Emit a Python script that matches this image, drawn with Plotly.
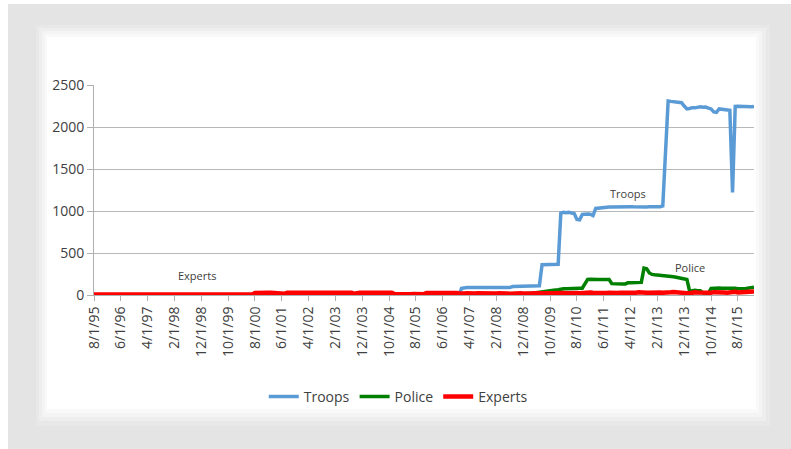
import plotly.graph_objects as go

# ---------------- data (monthly, Aug 1995 .. Feb 2016) ----------------
troops = (
    [0, 0, 0, 0, 0] +
    [0, 0, 0, 0, 0, 0, 0, 0, 0, 0, 0, 0] +  # 1996
    [0, 0, 0, 0, 0, 0, 0, 0, 0, 0, 0, 0] +  # 1997
    [0, 0, 0, 0, 0, 0, 0, 0, 0, 0, 0, 0] +  # 1998
    [0, 0, 0, 0, 0, 0, 0, 0, 0, 0, 0, 0] +  # 1999
    [0, 0, 0, 0, 0, 0, 0, 0, 0, 0, 0, 0] +  # 2000
    [0, 0, 0, 0, 0, 0, 0, 0, 0, 0, 0, 0] +  # 2001
    [0, 0, 0, 0, 0, 0, 0, 0, 0, 0, 0, 0] +  # 2002
    [0, 0, 0, 0, 0, 0, 0, 0, 0, 0, 0, 0] +  # 2003
    [0, 0, 0, 0, 0, 0, 0, 0, 0, 0, 0, 0] +  # 2004
    [0, 0, 0, 0, 0, 0, 0, 0, 0, 0, 0, 0] +  # 2005
    [0, 0, 0, 0, 0, 0, 0, 0, 0, 0, 0, 0] +  # 2006
    [80, 88, 88, 88, 90, 88, 88, 90, 88, 88, 88, 90] +  # 2007
    [88, 88, 90, 88, 88, 88, 88, 100, 100, 100, 102, 100] +  # 2008
    [100, 102, 105, 104, 105, 110, 360, 362, 362, 362, 362, 362] +  # 2009
    [365, 975, 985, 980, 985, 975, 970, 900, 895, 960, 965, 965] +  # 2010
    [962, 945, 1030, 1035, 1040, 1045, 1045, 1048, 1048, 1050, 1048, 1050] +  # 2011
    [1050, 1048, 1050, 1052, 1050, 1048, 1050, 1045, 1050, 1048, 1052, 1050] +  # 2012
    [1048, 1050, 1052, 1060, 1700, 2310, 2305, 2300, 2302, 2298, 2290, 2250] +  # 2013
    [2215, 2220, 2230, 2228, 2235, 2240, 2235, 2238, 2225, 2215, 2180, 2175] +  # 2014
    [2215, 2212, 2205, 2208, 2200, 1220, 2245, 2248, 2245, 2250, 2243, 2242] +  # 2015
    [2240, 2245]  # 2016
)

police = (
    [0, 0, 0, 0, 0] +
    [0, 0, 0, 0, 0, 0, 0, 0, 0, 0, 0, 0] +  # 1996
    [0, 0, 0, 0, 0, 0, 0, 0, 0, 0, 0, 0] +  # 1997
    [0, 0, 0, 0, 0, 0, 0, 0, 0, 0, 0, 0] +  # 1998
    [0, 0, 0, 0, 0, 0, 0, 0, 0, 0, 0, 0] +  # 1999
    [0, 0, 0, 0, 0, 0, 0, 5, 6, 6, 6, 6] +  # 2000
    [6, 6, 6, 6, 6, 6, 6, 6, 6, 6, 6, 6] +  # 2001
    [6, 6, 6, 6, 6, 6, 6, 6, 6, 6, 6, 6] +  # 2002
    [6, 6, 6, 6, 6, 6, 6, 6, 6, 6, 6, 6] +  # 2003
    [6, 6, 6, 6, 6, 6, 6, 6, 6, 6, 6, 6] +  # 2004
    [6, 6, 6, 6, 6, 6, 6, 6, 6, 6, 6, 6] +  # 2005
    [6, 6, 6, 6, 6, 6, 6, 6, 6, 6, 6, 6] +  # 2006
    [8, 8, 8, 8, 8, 8, 8, 8, 8, 8, 8, 8] +  # 2007
    [8, 8, 8, 8, 8, 8, 8, 10, 10, 10, 12, 12] +  # 2008
    [15, 20, 22, 25, 30, 35, 45, 50, 52, 55, 55, 60] +  # 2009
    [62, 70, 75, 75, 78, 78, 80, 80, 80, 80, 130, 185] +  # 2010
    [188, 190, 188, 185, 185, 188, 186, 185, 135, 132, 130, 130] +  # 2011
    [130, 132, 145, 145, 148, 148, 145, 150, 320, 312, 262, 245] +  # 2012
    [240, 238, 236, 232, 230, 226, 222, 218, 212, 205, 200, 192] +  # 2013
    [185, 45, 55, 55, 50, 50, 25, 18, 20, 78, 82, 82] +  # 2014
    [82, 80, 82, 80, 78, 80, 80, 75, 72, 75, 78, 80] +  # 2015
    [85, 92]  # 2016
)

experts = (
    [5, 5, 5, 5, 5] +
    [5, 5, 5, 5, 5, 5, 5, 5, 5, 5, 5, 5] +  # 1996
    [5, 5, 5, 5, 5, 5, 5, 5, 5, 5, 5, 5] +  # 1997
    [5, 5, 5, 5, 5, 5, 5, 5, 5, 5, 5, 5] +  # 1998
    [5, 5, 5, 5, 5, 5, 5, 5, 5, 15, 18, 16] +  # 1999
    [12, 6, 5, 5, 5, 5, 5, 25, 28, 28, 26, 28] +  # 2000
    [27, 28, 26, 28, 27, 25, 15, 27, 28, 26, 28, 27] +  # 2001
    [26, 28, 27, 28, 26, 27, 28, 26, 27, 28, 26, 27] +  # 2002
    [28, 26, 27, 25, 28, 26, 27, 28, 15, 26, 28, 27] +  # 2003
    [27, 28, 26, 18, 27, 28, 26, 27, 25, 27, 26, 12] +  # 2004
    [10, 10, 12, 10, 11, 10, 12, 10, 11, 12, 10, 25] +  # 2005
    [26, 28, 27, 30, 28, 26, 27, 28, 30, 26, 25, 20] +  # 2006
    [15, 18, 20, 16, 15, 18, 22, 20, 18, 16, 20, 22] +  # 2007
    [20, 18, 22, 25, 20, 18, 16, 20, 22, 25, 20, 18] +  # 2008
    [22, 20, 18, 20, 25, 22, 20, 24, 26, 22, 20, 24] +  # 2009
    [25, 28, 24, 22, 26, 30, 28, 25, 22, 26, 28, 25] +  # 2010
    [30, 28, 25, 22, 26, 28, 24, 26, 30, 28, 25, 28] +  # 2011
    [26, 24, 28, 30, 26, 28, 32, 35, 30, 28, 26, 30] +  # 2012
    [28, 32, 30, 28, 26, 30, 32, 35, 30, 28, 26, 25] +  # 2013
    [22, 20, 28, 32, 30, 28, 35, 32, 30, 28, 34, 30] +  # 2014
    [32, 35, 30, 28, 32, 35, 38, 30, 32, 35, 36, 38] +  # 2015
    [40, 42]  # 2016
)

# month categories (Aug 1995 .. Feb 2016)
months = []
y, m = 1995, 8
for _ in range(len(troops)):
    months.append(f"{m}/1/{y % 100:02d}")
    m += 1
    if m > 12:
        m = 1
        y += 1

tick_labels = ["8/1/95", "6/1/96", "4/1/97", "2/1/98", "12/1/98", "10/1/99",
               "8/1/00", "6/1/01", "4/1/02", "2/1/03", "12/1/03", "10/1/04",
               "8/1/05", "6/1/06", "4/1/07", "2/1/08", "12/1/08", "10/1/09",
               "8/1/10", "6/1/11", "4/1/12", "2/1/13", "12/1/13", "10/1/14",
               "8/1/15"]
y_ticks = [0, 500, 1000, 1500, 2000, 2500]

series_names = ["Troops", "Police", "Experts"]
series_colors = ["#5b9bd5", "#008000", "#ff0000"]
series_widths = [3.5, 3.5, 4.5]

FONT = "'Open Sans', Lato, sans-serif"
TXT = "#404040"

fig = go.Figure()
for name, vals, col, w in zip(series_names, [troops, police, experts], series_colors, series_widths):
    fig.add_trace(go.Scatter(x=months, y=vals, mode="lines", name=name,
                             line=dict(color=col, width=w)))

# ---------------- layout ----------------
W, H = 791, 449
L, R, T, B = 94, 37, 85, 154
pw, ph = W - L - R, H - T - B


def px2paper(x0, y0, x1, y1):
    return dict(x0=(x0 - L) / pw, x1=(x1 - L) / pw,
                y0=(H - B - y0) / ph, y1=(H - B - y1) / ph)


shapes = []
shapes.append(dict(type="rect", xref="paper", yref="paper", layer="below",
                   line=dict(width=0), fillcolor="#e4e4e4", **px2paper(8, 4, 791, 449)))
for (x0, y0, x1, y1, c) in [(36, 25, 770, 426, "#e8e8e8"),
                            (39, 28, 766, 421, "#eeeeee"),
                            (42, 31, 762, 417, "#f4f4f4"),
                            (45, 34, 759, 413, "#f9f9f9"),
                            (47, 37, 756, 409, "#ffffff")]:
    shapes.append(dict(type="rect", xref="paper", yref="paper", layer="below",
                       line=dict(width=0), fillcolor=c, **px2paper(x0, y0, x1, y1)))

annotations = [
    dict(x=38.4, y=232, text="Experts", showarrow=False, font=dict(size=11, color="#404040", family=FONT)),
    dict(x=199, y=1205, text="Troops", showarrow=False, font=dict(size=11, color="#404040", family=FONT)),
    dict(x=222, y=327, text="Police", showarrow=False, font=dict(size=11, color="#404040", family=FONT)),
]

fig.update_layout(
    width=W, height=H,
    margin=dict(l=L, r=R, t=T, b=B, pad=0),
    paper_bgcolor="#ffffff",
    plot_bgcolor="rgba(0,0,0,0)",
    font=dict(family=FONT, size=14, color=TXT),
    shapes=shapes,
    annotations=annotations,
    showlegend=True,
    legend=dict(orientation="h", x=0.461, xanchor="center", y=-0.485, yanchor="middle",
                font=dict(size=14, color=TXT, family=FONT), bgcolor="rgba(0,0,0,0)",
                itemwidth=30, tracegroupgap=0),
    xaxis=dict(type="category", range=[0, len(months) - 1], tickmode="array",
               tickvals=tick_labels, ticktext=tick_labels, tickangle=-90,
               ticks="outside", ticklen=5, tickcolor="#b0b0b0",
               showgrid=False, showline=True, linecolor="#b0b0b0", linewidth=1,
               tickfont=dict(size=14, color=TXT, family=FONT), fixedrange=True),
    yaxis=dict(range=[0, 2500], tickvals=y_ticks, ticks="outside", ticklen=6,
               tickcolor="#b0b0b0", showgrid=True, gridcolor="#b8b8b8", gridwidth=1,
               showline=True, linecolor="#b0b0b0", linewidth=1, zeroline=False,
               tickfont=dict(size=14, color=TXT, family=FONT)),
)

fig.write_html("out.html", config={"displayModeBar": False},
               post_script="document.body.style.margin='0';document.body.style.padding='0';")
